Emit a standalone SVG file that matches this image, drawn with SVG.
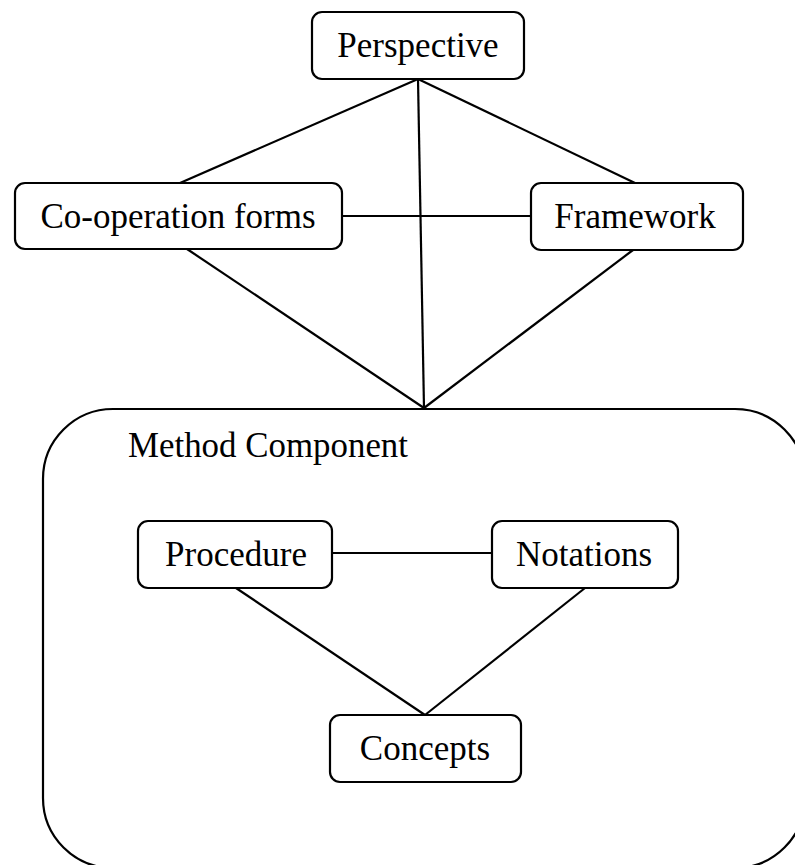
<svg xmlns="http://www.w3.org/2000/svg" width="795" height="865" viewBox="0 0 795 865">
<style>
.box{fill:#fff;stroke:#000;stroke-width:2.2}
.cont{fill:none;stroke:#000;stroke-width:2.2}
.lbl{font-family:"Liberation Serif","Times New Roman",serif;font-size:35px;fill:#000}
.c{text-anchor:middle}
#connectors line{stroke:#000;stroke-width:2.2}
</style>
<rect width="795" height="865" fill="#fff"/>
<g id="method-component">
<rect class="cont" x="43" y="409" width="762" height="459" rx="70" ry="70"/>
<text class="lbl" x="128" y="457" textLength="280" lengthAdjust="spacingAndGlyphs">Method Component</text>
</g>
<g id="connectors">
<line x1="418" y1="79" x2="180" y2="183"/>
<line x1="418" y1="79" x2="635" y2="183"/>
<line x1="418" y1="79" x2="424" y2="408"/>
<line x1="342" y1="216" x2="531" y2="216"/>
<line x1="187" y1="249" x2="424" y2="408"/>
<line x1="633" y1="250" x2="424" y2="408"/>
<line x1="332" y1="553" x2="492" y2="553"/>
<line x1="236" y1="588" x2="425" y2="715"/>
<line x1="585" y1="588" x2="425" y2="715"/>
</g>
<g id="perspective">
<rect class="box" x="312" y="12" width="212" height="67" rx="10"/>
<text class="lbl c" x="418" y="57">Perspective</text>
</g>
<g id="co-operation-forms">
<rect class="box" x="15" y="183" width="327" height="66" rx="10"/>
<text class="lbl c" x="178" y="228">Co-operation forms</text>
</g>
<g id="framework">
<rect class="box" x="531" y="183" width="212" height="67" rx="10"/>
<text class="lbl c" x="635" y="228">Framework</text>
</g>
<g id="procedure">
<rect class="box" x="138" y="521" width="194" height="67" rx="10"/>
<text class="lbl c" x="236" y="566">Procedure</text>
</g>
<g id="notations">
<rect class="box" x="492" y="521" width="186" height="67" rx="10"/>
<text class="lbl c" x="584" y="566">Notations</text>
</g>
<g id="concepts">
<rect class="box" x="330" y="715" width="191" height="67" rx="10"/>
<text class="lbl c" x="425" y="760">Concepts</text>
</g>
</svg>
